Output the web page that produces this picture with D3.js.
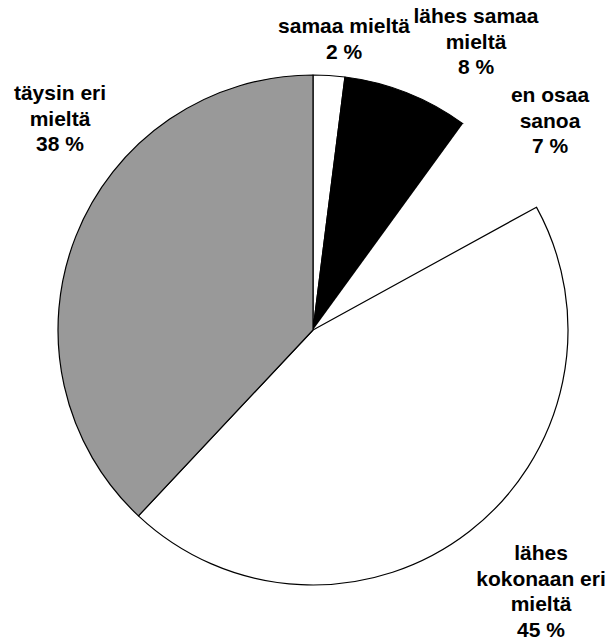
<!DOCTYPE html>
<html>
<head>
<meta charset="utf-8">
<script src="https://cdnjs.cloudflare.com/ajax/libs/d3/7.8.5/d3.min.js"></script>
<style>
  body { margin: 0; background: #fff; }
  text { font-family: "Liberation Sans", Arial, sans-serif; font-weight: bold; font-size: 21px; fill: #000; }
</style>
</head>
<body>
<div id="chart"></div>
<script>
// answers, clockwise from 12 o'clock
var categories = ["samaa mieltä", "lähes samaa mieltä", "en osaa sanoa", "lähes kokonaan eri mieltä", "täysin eri mieltä"];
var values = [2, 8, 7, 45, 38];
var labelLines = [
  ["samaa mieltä", "2 %"],
  ["lähes samaa", "mieltä", "8 %"],
  ["en osaa", "sanoa", "7 %"],
  ["lähes", "kokonaan eri", "mieltä", "45 %"],
  ["täysin eri", "mieltä", "38 %"]
];

// slice looks
var fills = ["#ffffff", "#000000", "#ffffff", "#ffffff", "#999999"];
var strokes = ["#000", "#000", "none", "#000", "#000"];
// label anchor (centre x, first baseline y)
var labelPos = [[344, 33], [476, 23], [550, 102], [541, 560], [60, 100]];

var width = 611, height = 640;
var cx = 313, cy = 330, radius = 255;

var svg = d3.select("#chart")
  .append("svg")
    .attr("width", width)
    .attr("height", height);

var pie = d3.pie().sort(null).value(function(d) { return d; });
var arc = d3.arc().innerRadius(0).outerRadius(radius);

var g = svg.append("g")
  .attr("transform", "translate(" + cx + "," + cy + ")");

g.selectAll("path")
  .data(pie(values))
  .enter()
  .append("path")
    .attr("d", arc)
    .attr("fill", function(d, i) { return fills[i]; })
    .attr("stroke", function(d, i) { return strokes[i]; })
    .attr("stroke-width", 1.2)
    .attr("stroke-linejoin", "round");

var labels = svg.selectAll("text.lbl")
  .data(categories)
  .enter()
  .append("text")
    .attr("class", "lbl")
    .attr("text-anchor", "middle")
    .attr("x", function(d, i) { return labelPos[i][0]; })
    .attr("y", function(d, i) { return labelPos[i][1]; });

labels.each(function(d, i) {
  var t = d3.select(this);
  labelLines[i].forEach(function(line, j) {
    t.append("tspan")
      .attr("x", labelPos[i][0])
      .attr("dy", j === 0 ? 0 : 25.7)
      .text(line);
  });
});
</script>
</body>
</html>
